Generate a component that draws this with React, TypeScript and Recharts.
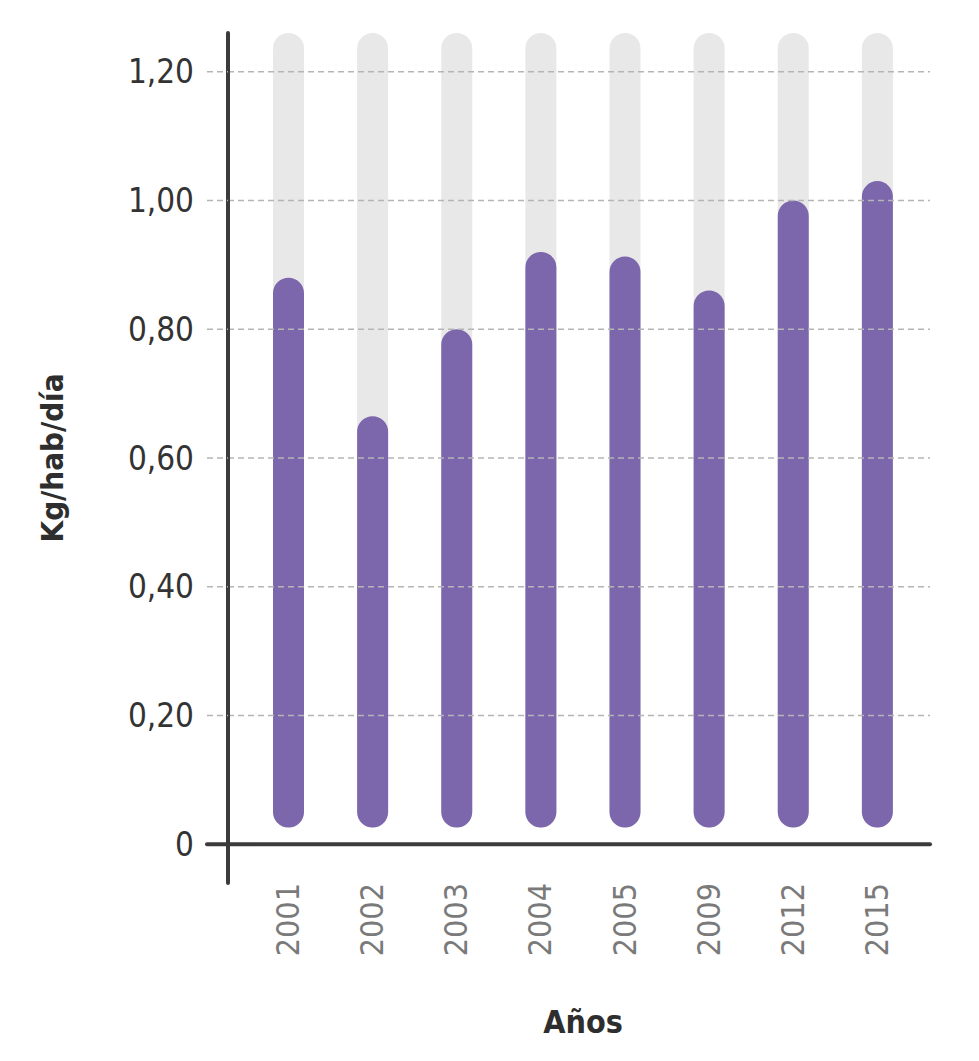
import {
  ComposedChart,
  Bar,
  XAxis,
  YAxis,
  ReferenceLine,
  Label,
} from 'recharts';

// Generación de residuos por habitante
const years = ['2001', '2002', '2003', '2004', '2005', '2009', '2012', '2015'];
const kgPerDay = [0.88, 0.665, 0.8, 0.92, 0.913, 0.86, 1.0, 1.03];
const yTicks = [0, 0.2, 0.4, 0.6, 0.8, 1.0, 1.2];
const barBase = 0.026;
const trackTop = 1.26;

const data = years.map((year, i) => ({
  year,
  track: [barBase, trackTop],
  value: [barBase, kgPerDay[i]],
}));

const FONT = "'Liberation Sans Narrow', 'DejaVu Sans Condensed', 'Liberation Sans', sans-serif";
const AXIS = '#3b3b3b';

const fmt = (v: number) => (v === 0 ? '0' : v.toFixed(2).replace('.', ','));

function YTick({ x, y, payload }: any) {
  const zero = payload.value === 0;
  return (
    <g>
      <line
        x1={x - 21}
        x2={x}
        y1={y}
        y2={y}
        stroke={zero ? AXIS : '#b5b5b5'}
        strokeWidth={zero ? 4 : 1.5}
        strokeDasharray={zero ? undefined : '6 4'}
        strokeLinecap={zero ? 'round' : 'butt'}
      />
      <text
        x={x - 34}
        y={y}
        textAnchor="end"
        dominantBaseline="central"
        fill="#333"
        fontSize={33}
        fontFamily={FONT}
      >
        {fmt(payload.value)}
      </text>
    </g>
  );
}

function XTick({ x, payload }: any) {
  return (
    <text
      x={x}
      y={883}
      transform={`rotate(-90 ${x} 883)`}
      textAnchor="end"
      dominantBaseline="central"
      fill="#7a7a7a"
      fontSize={32}
      fontFamily={FONT}
    >
      {payload.value}
    </text>
  );
}

export default function App() {
  return (
    <div style={{ position: 'absolute', left: 0, top: 0, background: '#fff' }}>
      <ComposedChart
        width={979}
        height={1061}
        data={data}
        margin={{ top: 33, right: 49, bottom: 148, left: 0 }}
        barSize={31}
        barGap={-31}
      >
        <XAxis
          dataKey="year"
          height={30}
          axisLine={false}
          tickLine={false}
          tick={<XTick />}
          padding={{ left: 18, right: 11 }}
          interval={0}
        />
        <YAxis
          width={228}
          domain={[-0.06, 1.26]}
          ticks={yTicks}
          tickSize={0}
          tickMargin={0}
          tick={<YTick />}
          axisLine={{ stroke: AXIS, strokeWidth: 4, strokeLinecap: 'round' }}
          tickLine={false}
        >
          <Label
            value="Kg/hab/día"
            angle={-90}
            position="insideLeft"
            offset={52}
            style={{ fontSize: 31, fontFamily: FONT, fill: '#2e2e2e', fontWeight: 700, textAnchor: 'middle' }}
          />
        </YAxis>
        {yTicks
          .filter((t) => t !== 0)
          .map((t) => (
            <ReferenceLine key={t} y={t} stroke="#b5b5b5" strokeWidth={1.5} strokeDasharray="6 4" />
          ))}
        <ReferenceLine y={0} stroke={AXIS} strokeWidth={4} strokeLinecap="round" />
        <Bar dataKey="track" fill="#e8e8e8" radius={15.5} isAnimationActive={false} />
        <Bar dataKey="value" fill="#7c66ac" radius={15.5} isAnimationActive={false} />
        <text
          x={583}
          y={1022}
          textAnchor="middle"
          dominantBaseline="central"
          fontSize={32}
          fontWeight={700}
          fontFamily={FONT}
          fill="#2e2e2e"
        >
          Años
        </text>
      </ComposedChart>
    </div>
  );
}
